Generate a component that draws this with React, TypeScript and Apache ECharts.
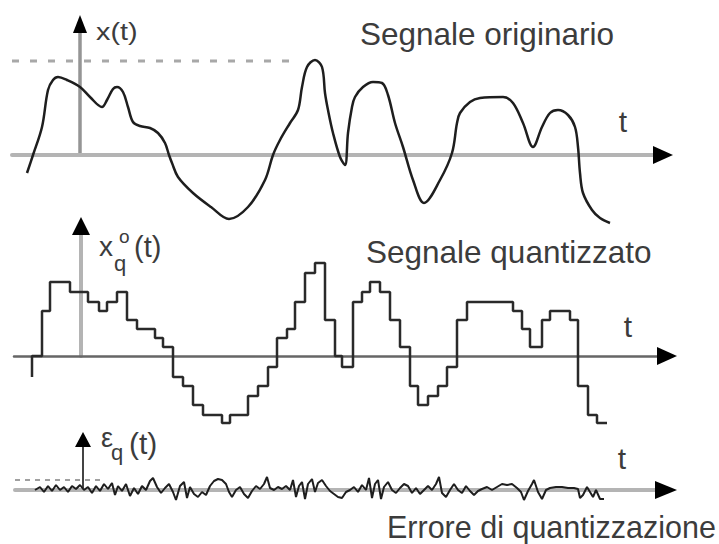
import React, { useEffect, useRef } from "react";
import * as echarts from "echarts";

// ---- Data (t measured from the vertical axis, value measured from the time axis, positive upward) ----
const topT = [-53, -47, -38, -32, -27, -22, -13, 0, 10, 22, 27, 33, 37, 43, 48, 53, 60, 70, 78, 85, 89, 92, 98, 113, 131, 149, 168, 185, 193, 200, 210, 218, 222, 227, 235, 242, 245, 248, 253, 260, 265, 268, 272, 275, 283, 293, 302, 308, 315, 323, 333, 344, 360, 372, 377, 380, 390, 400, 423, 433, 443, 453, 462, 470, 478, 488, 495, 498, 500, 503, 512, 520, 530];
const topV = [-18, 0, 28, 65, 75, 78, 75, 68, 58, 48, 55, 66, 68, 63, 48, 33, 29, 27, 22, 12, 0, -8, -22, -38, -52, -64, -52, -25, 0, 15, 32, 45, 68, 88, 95, 88, 62, 45, 22, -2, -10, 22, 48, 58, 68, 73, 72, 60, 32, 8, -25, -48, -25, 2, 32, 42, 53, 57, 58, 52, 32, 8, 28, 42, 45, 40, 28, 8, -18, -38, -55, -63, -68];
const topLimit = 94;
const topLimitSpan = [-68, 220];

const midT = [-49, -49, -39, -31, -11, 7, 18, 26, 36, 46, 56, 74, 82, 92, 102, 112, 122, 141, 149, 167, 177, 187, 196, 206, 214, 224, 234, 244, 254, 261, 272, 281, 289, 299, 309, 319, 329, 337, 347, 357, 366, 376, 386, 432, 441, 449, 461, 469, 489, 497, 507, 516, 526];
const midV = [-21, 0, 45, 74, 64, 54, 45, 54, 64, 36, 27, 18, 9, -21, -30, -49, -59, -67, -59, -40, -30, -11, 18, 27, 54, 83, 93, 36, 0, -11, 54, 64, 74, 64, 36, 9, -30, -49, -40, -30, -11, 36, 54, 45, 27, 9, 36, 45, 36, -30, -59, -67, -67];

const errT = [-48, -43, -39, -35, -31, -27, -23, -19, -15, -11, -7, -3, 1, 5, 9, 13, 17, 21, 25, 29, 32, 35, 39, 43, 47, 51, 55, 59, 63, 67, 70, 74, 78, 82, 86, 90, 93, 97, 101, 104, 107, 111, 115, 119, 123, 127, 131, 135, 139, 143, 146, 149, 153, 157, 161, 165, 169, 173, 177, 181, 184, 187, 191, 195, 199, 203, 207, 210, 213, 216, 219, 222, 225, 229, 232, 235, 239, 243, 247, 251, 255, 259, 263, 267, 271, 275, 279, 283, 286, 289, 292, 295, 298, 301, 305, 309, 313, 317, 321, 325, 329, 333, 337, 341, 345, 349, 353, 356, 359, 363, 367, 371, 375, 379, 383, 387, 391, 395, 399, 404, 409, 414, 419, 424, 429, 434, 438, 441, 445, 449, 451, 455, 459, 463, 467, 473, 479, 485, 491, 495, 497, 500, 504, 507, 510, 513, 517, 521];
const errV = [0, 3, -2, 4, -1, 5, 0, 3, -2, 4, 1, 5, 0, 3, -3, 4, -1, 6, 1, 7, -5, 4, -1, 6, -6, 2, -4, 4, 0, 9, 12, 3, -3, 2, 6, -2, -10, 4, 8, -8, 3, -4, -7, -2, -5, 4, 9, 11, 10, 6, -2, -7, 0, 3, -4, -8, -1, 4, 1, 6, 13, 2, 0, 3, 1, 4, 0, 10, -7, 4, 8, -9, 6, 11, -2, 7, 10, 4, -1, -4, -7, -8, -2, 0, 3, -2, 5, 0, 12, -8, 6, 10, -9, 3, 8, 0, -3, 2, 6, 4, -3, 2, -4, 0, 4, 0, 6, 13, -3, -7, 0, 6, 0, -3, 4, -1, -5, -1, 1, 3, 0, 3, 6, 5, 6, 2, -2, -10, -1, 6, 10, -2, -9, 0, 2, 3, 3, 2, 2, 1, -8, -5, 3, -2, -7, 0, -9, -9];
const errLimit = 10;
const errLimitSpan = [-68, 20];

const titles = ["Segnale originario", "Segnale quantizzato", "Errore di quantizzazione"];

// ---- Layout ----
const panels = [
  { left: 12, top: 25, width: 648, height: 130, xMin: -68, xMax: 580, xLine: { color: "#b4b4b4", width: 4 }, yLine: { color: "#959595", width: 3.5 }, ax: [13, 7, 9], ay: [10, 8, 7] },
  { left: 14, top: 227, width: 650, height: 129, xMin: -67, xMax: 583, xLine: { color: "#666666", width: 2.5 }, yLine: { color: "#b4b4b4", width: 4 }, ax: [13, 7, 9], ay: [10, 8, 9] },
  { left: 15, top: 440, width: 647, height: 50, xMin: -68, xMax: 579, xLine: { color: "#b4b4b4", width: 4 }, yLine: { color: "#444444", width: 2 }, ax: [15, 7, 9], ay: [8, 7, 8] },
];

const FONT = "'Liberation Sans', Arial, Helvetica, sans-serif";
const TXT = "#3c3c3c";

const zip = (t: number[], v: number[]) => t.map((x, i) => [x, v[i]]);

function text(str: string, x: number, y: number, size: number, extra: any = {}) {
  return {
    type: "text",
    x,
    y,
    z: 10,
    ...extra,
    style: {
      text: str,
      fontSize: size,
      fontFamily: FONT,
      fill: extra.fill || TXT,
      textAlign: extra.align || "left",
      textVerticalAlign: "middle",
      verticalAlign: "middle",
    },
  };
}

export default function App() {
  const ref = useRef<HTMLDivElement>(null);
  useEffect(() => {
    if (!ref.current) return;
    const chart = echarts.init(ref.current, undefined, { renderer: "svg" });
    const option: any = {
      animation: false,
      backgroundColor: "#ffffff",
      grid: panels.map((p) => ({ left: p.left, top: p.top, width: p.width, height: p.height, containLabel: false, outerBoundsMode: "none" })),
      xAxis: panels.map((p, i) => ({
        type: "value",
        gridIndex: i,
        min: p.xMin,
        max: p.xMax,
        axisLine: { show: true, onZero: true, lineStyle: { color: p.xLine.color, width: p.xLine.width } },
        axisTick: { show: false },
        axisLabel: { show: false },
        splitLine: { show: false },
      })),
      yAxis: panels.map((p, i) => ({
        type: "value",
        gridIndex: i,
        min: 0,
        max: p.height,
        axisLine: { show: true, onZero: true, lineStyle: { color: p.yLine.color, width: p.yLine.width } },
        axisTick: { show: false },
        axisLabel: { show: false },
        splitLine: { show: false },
      })),
      series: [
        {
          type: "line",
          xAxisIndex: 0,
          yAxisIndex: 0,
          data: zip(topT, topV),
          smooth: 0.35,
          showSymbol: false,
          symbol: "none",
          clip: false,
          lineStyle: { color: "#1e1e1e", width: 2.5 },
          z: 3,
        },
        {
          type: "line",
          xAxisIndex: 0,
          yAxisIndex: 0,
          data: topLimitSpan.map((t) => [t, topLimit]),
          showSymbol: false,
          symbol: "none",
          clip: false,
          lineStyle: { color: "#a8a8a8", width: 3, type: [7, 11] },
          z: 2,
        },
        {
          type: "line",
          xAxisIndex: 1,
          yAxisIndex: 1,
          data: zip(midT, midV),
          step: "end",
          showSymbol: false,
          symbol: "none",
          clip: false,
          lineStyle: { color: "#2a2a2a", width: 2.5 },
          z: 3,
        },
        {
          type: "line",
          xAxisIndex: 2,
          yAxisIndex: 2,
          data: errLimitSpan.map((t) => [t, errLimit]),
          showSymbol: false,
          symbol: "none",
          clip: false,
          lineStyle: { color: "#a0a0a0", width: 2, type: [5, 5] },
          z: 2,
        },
        {
          type: "line",
          xAxisIndex: 2,
          yAxisIndex: 2,
          data: zip(errT, errV),
          showSymbol: false,
          symbol: "none",
          clip: false,
          lineStyle: { color: "#1e1e1e", width: 2 },
          z: 3,
        },
      ],
    };
    chart.setOption(option);

    const graphics: any[] = [];
    panels.forEach((p, i) => {
      const xe = chart.convertToPixel({ gridIndex: i } as any, [p.xMax, 0]) as number[];
      const ye = chart.convertToPixel({ gridIndex: i } as any, [0, p.height]) as number[];
      const [tipX, baseX, hx] = p.ax;
      const [tipY, baseY, hy] = p.ay;
      graphics.push({
        type: "polygon",
        z: 10,
        shape: { points: [[xe[0] + tipX, xe[1]], [xe[0] - baseX, xe[1] - hx], [xe[0] - baseX, xe[1] + hx]] },
        style: { fill: "#000000" },
      });
      graphics.push({
        type: "polygon",
        z: 10,
        shape: { points: [[ye[0], ye[1] - tipY], [ye[0] - hy, ye[1] + baseY], [ye[0] + hy, ye[1] + baseY]] },
        style: { fill: "#000000" },
      });
    });

    // Titles
    graphics.push(text(titles[0], 360, 34, 31.5));
    graphics.push(text(titles[1], 366, 252, 31.5));
    graphics.push(text(titles[2], 387, 527, 30.5));
    // time labels
    graphics.push(text("t", 623, 121, 30, { align: "center" }));
    graphics.push(text("t", 628, 326, 30, { align: "center" }));
    graphics.push(text("t", 622, 458, 30, { align: "center" }));
    // axis names
    graphics.push(text("x(t)", 96, 32, 24, { scaleX: 1.2 }));
    graphics.push(text("x", 99, 246, 28));
    graphics.push(text("o", 119, 236, 19));
    graphics.push(text("q", 114, 263, 22));
    graphics.push(text("(t)", 134, 247, 29));
    graphics.push(text("ε", 101, 438, 27));
    graphics.push(text("q", 111, 452, 22));
    graphics.push(text("(t)", 129, 443, 30));

    chart.setOption({ graphic: { elements: graphics } });

    return () => chart.dispose();
  }, []);

  return (
    <div
      ref={ref}
      style={{ position: "fixed", left: 0, top: 0, width: 719, height: 544, background: "#fff" }}
    />
  );
}
